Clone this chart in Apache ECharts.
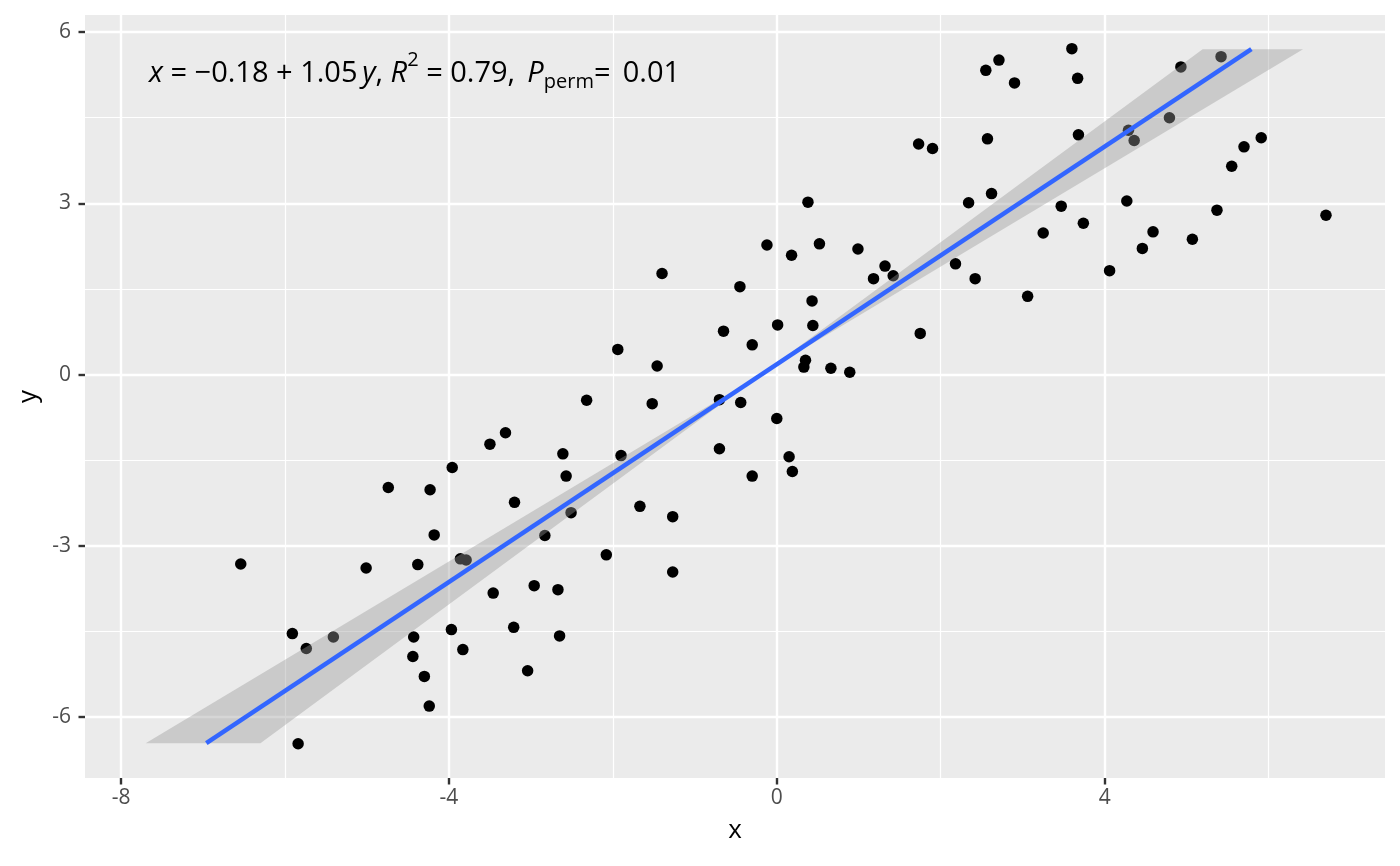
<!DOCTYPE html>
<html>
<head>
<meta charset="utf-8">
<script src="https://cdn.jsdelivr.net/npm/echarts@6/dist/echarts.min.js"></script>
<style>
  html, body { margin: 0; padding: 0; background: #fff; }
  #chart { width: 1400px; height: 866px; }
</style>
</head>
<body>
<div id="chart"></div>
<script>
// points
var ptsX = [-4.74, -4.23, -4.18, -6.54, -5.01, -4.38, -5.91, -5.74, -5.41, -4.43,
            -4.44, -4.30, -4.24, -5.84, -2.32, -1.52, -0.70, -3.31, -3.50, -2.61,
            -1.90, -0.70, -3.96, -2.57, -3.20, -1.67, -1.27, -2.51, -2.83, -2.08,
            -1.27, -3.86, -3.79, -3.46, -2.96, -2.67, -3.97, -3.21, -2.65, -3.83,
            -3.04, 0.38, -0.12, 0.52, 0.18, 0.99, 1.32, 1.18, 1.42, -1.40,
            -0.45, 0.43, 0.01, 0.44, -0.65, -0.30, -1.94, -1.46, 0.35, 0.33,
            0.66, 0.89, 1.75, -0.44, 0.00, 0.15, 0.19, -0.30, 3.60, 2.71,
            2.55, 2.90, 3.67, 4.93, 5.42, 1.73, 1.90, 2.57, 3.68, 4.79,
            4.29, 4.36, 5.91, 5.70, 5.55, 2.62, 2.34, 4.27, 3.47, 5.37,
            6.70, 3.74, 3.25, 4.59, 4.46, 5.07, 2.18, 2.42, 4.06, 3.06];
var ptsY = [-1.98, -2.02, -2.81, -3.32, -3.39, -3.33, -4.54, -4.80, -4.60, -4.60,
            -4.94, -5.29, -5.81, -6.47, -0.45, -0.51, -0.44, -1.02, -1.22, -1.39,
            -1.42, -1.30, -1.63, -1.78, -2.24, -2.31, -2.49, -2.42, -2.82, -3.16,
            -3.46, -3.23, -3.25, -3.83, -3.70, -3.77, -4.47, -4.43, -4.58, -4.82,
            -5.19, 3.02, 2.27, 2.29, 2.09, 2.20, 1.90, 1.68, 1.73, 1.77,
            1.54, 1.29, 0.87, 0.86, 0.76, 0.52, 0.44, 0.15, 0.25, 0.13,
            0.11, 0.04, 0.72, -0.49, -0.77, -1.44, -1.70, -1.78, 5.71, 5.51,
            5.33, 5.11, 5.19, 5.39, 5.57, 4.04, 3.96, 4.13, 4.20, 4.50,
            4.28, 4.10, 4.15, 3.99, 3.65, 3.17, 3.01, 3.04, 2.95, 2.88,
            2.79, 2.65, 2.48, 2.50, 2.21, 2.37, 1.94, 1.68, 1.82, 1.37];

// fitted line (x on y) and its confidence band
var lineX = [-6.96, 5.79];
var lineY = [-6.46, 5.70];
var bandY = [-6.46, 0.02, 5.70];
var bandXmin = [-7.70, -0.175, 5.195];
var bandXmax = [-6.30, -0.175, 6.42];

var xMajor = [-8, -4, 0, 4];
var xMinor = [-6, -2, 2, 6];
var yMajor = [-6, -3, 0, 3, 6];
var yMinor = [-4.5, -1.5, 1.5, 4.5];

// equation label (rich text: i = italic, sup/sub = raised/lowered, t = thin gap)
var eqLabel = '{i|x}{n| = \u22120.18 + 1.05}{t| }{i|y}{n|, }{i|R}{sup|2}{n| = 0.79,}{t| }{n| }{i|P}{sub|perm}{n|= }{t| }{n|0.01}';

var chart = echarts.init(document.getElementById('chart'));

var font = '"Open Sans", "Noto Sans", sans-serif';
var xRange = { min: -8.44, max: 7.42 };
var yRange = { min: -7.07, max: 6.30 };

var points = ptsX.map(function (x, i) { return [x, ptsY[i]]; });
var linePts = lineX.map(function (x, i) { return [x, lineY[i]]; });

chart.setOption({
  animation: false,
  textStyle: { fontFamily: font },
  grid: {
    left: 85, right: 15, top: 15, bottom: 88,
    show: true, backgroundColor: '#EBEBEB', borderWidth: 0
  },
  xAxis: [{
    type: 'value', min: xRange.min, max: xRange.max,
    axisLine: { show: false, onZero: false },
    axisTick: { show: true, customValues: xMajor, length: 6.5, lineStyle: { color: '#333333', width: 2.4 } },
    axisLabel: { customValues: xMajor, color: '#4D4D4D', fontSize: 21, margin: 10, fontFamily: font },
    splitLine: { show: true, lineStyle: { color: '#FFFFFF', width: 2.4 } },
    name: 'x', nameLocation: 'middle', nameGap: 40,
    nameTextStyle: { color: '#000000', fontSize: 26, fontFamily: font }
  }, {
    type: 'value', min: xRange.min, max: xRange.max,
    axisLine: { show: false, onZero: false },
    axisTick: { show: false, customValues: xMinor },
    axisLabel: { show: false, customValues: xMinor },
    splitLine: { show: true, lineStyle: { color: '#FFFFFF', width: 1.2 } }
  }],
  yAxis: [{
    type: 'value', min: yRange.min, max: yRange.max,
    axisLine: { show: false, onZero: false },
    axisTick: { show: true, customValues: yMajor, length: 6.5, lineStyle: { color: '#333333', width: 2.4 } },
    axisLabel: { customValues: yMajor, color: '#4D4D4D', fontSize: 21, margin: 14, fontFamily: font },
    splitLine: { show: true, lineStyle: { color: '#FFFFFF', width: 2.4 } },
    name: 'y', nameLocation: 'middle', nameGap: 42, nameRotate: 90,
    nameTextStyle: { color: '#000000', fontSize: 26, fontFamily: font }
  }, {
    type: 'value', min: yRange.min, max: yRange.max,
    axisLine: { show: false, onZero: false },
    axisTick: { show: false, customValues: yMinor },
    axisLabel: { show: false, customValues: yMinor },
    splitLine: { show: true, lineStyle: { color: '#FFFFFF', width: 1.2 } }
  }],
  graphic: [{
    type: 'text', left: 149, top: 50, z: 100, silent: true,
    style: {
      text: eqLabel,
      fill: '#000000',
      fontSize: 29, fontFamily: font, lineHeight: 47,
      rich: {
        n: { fontSize: 29, lineHeight: 47, fontFamily: font },
        i: { fontSize: 29, lineHeight: 47, fontStyle: 'italic', fontFamily: font },
        t: { fontSize: 18, lineHeight: 20, fontFamily: font },
        sup: { fontSize: 20, lineHeight: 20, verticalAlign: 'top', fontFamily: font },
        sub: { fontSize: 20, lineHeight: 20, verticalAlign: 'middle', padding: [18, 0, 0, 0], fontFamily: font }
      }
    }
  }],
  series: [{
    type: 'scatter',
    data: points,
    symbol: 'circle', symbolSize: 11.5,
    itemStyle: { color: '#000000', opacity: 1 },
    z: 2, silent: true
  }, {
    type: 'custom',
    data: [[0, 0]],
    z: 3, silent: true,
    renderItem: function (params, api) {
      var poly = [];
      var i;
      for (i = 0; i < bandY.length; i++) poly.push(api.coord([bandXmin[i], bandY[i]]));
      for (i = bandY.length - 1; i >= 0; i--) poly.push(api.coord([bandXmax[i], bandY[i]]));
      return { type: 'polygon', shape: { points: poly }, style: { fill: 'rgba(153,153,153,0.4)' } };
    }
  }, {
    type: 'line',
    data: linePts,
    showSymbol: false,
    lineStyle: { color: '#3366FF', width: 4.5 },
    z: 4, silent: true
  }]
});
</script>
</body>
</html>
